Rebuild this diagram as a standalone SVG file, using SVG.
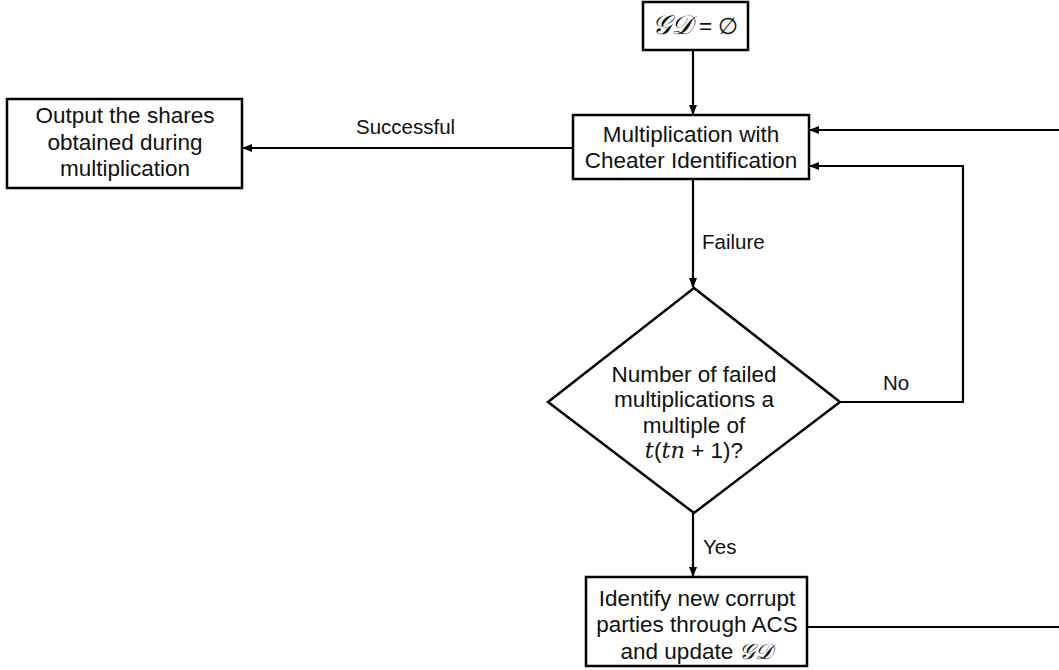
<svg xmlns="http://www.w3.org/2000/svg" width="1059" height="670" viewBox="0 0 1059 670">
<defs>
<marker id="ah" markerWidth="10" markerHeight="8" refX="9" refY="4" orient="auto" markerUnits="userSpaceOnUse">
<path d="M0,0 L10,4 L0,8 Z" fill="#000"/>
</marker>
<style>
.box{fill:#fff;stroke:#000;stroke-width:2.5}
.t{font-family:"Liberation Sans",Arial,sans-serif;font-size:22.5px;fill:#111;text-anchor:middle}
.m{font-family:"DejaVu Serif","Liberation Serif",serif;font-style:italic}
.g{font-family:"DejaVu Serif","Liberation Serif",serif;font-style:italic;font-size:27px}
.g2{font-family:"DejaVu Serif","Liberation Serif",serif;font-style:italic;font-size:22px}
.lbl{font-family:"Liberation Sans",Arial,sans-serif;font-size:20.5px;fill:#111}
.c{fill:none;stroke:#000;stroke-width:2.2}
</style>
</defs>
<rect width="1059" height="670" fill="#fff"/>
<g id="connectors">
<line class="c" x1="693" y1="50" x2="693" y2="114" marker-end="url(#ah)"/>
<line class="c" x1="573" y1="148" x2="243" y2="148" marker-end="url(#ah)"/>
<line class="c" x1="693" y1="179" x2="693" y2="287" marker-end="url(#ah)"/>
<line class="c" x1="693" y1="513" x2="693" y2="576" marker-end="url(#ah)"/>
<polyline class="c" points="840,402 963,402 963,166 810,166" marker-end="url(#ah)"/>
<line class="c" x1="1059" y1="130" x2="810" y2="130" marker-end="url(#ah)"/>
<line class="c" x1="807" y1="627" x2="1059" y2="627"/>
<text class="lbl" x="356" y="134">Successful</text>
<text class="lbl" x="702" y="249">Failure</text>
<text class="lbl" x="883" y="390">No</text>
<text class="lbl" x="703" y="554">Yes</text>
</g>
<g id="start">
<rect class="box" x="643" y="2" width="105" height="48"/>
<text class="t" x="695" y="34"><tspan class="g">𝒢𝒟</tspan> = ∅</text>
</g>
<g id="mult">
<rect class="box" x="573" y="115" width="236" height="64"/>
<text class="t" x="691" y="142">Multiplication with</text>
<text class="t" x="691" y="168">Cheater Identification</text>
</g>
<g id="output">
<rect class="box" x="7" y="99" width="235" height="89"/>
<text class="t" x="125" y="123">Output the shares</text>
<text class="t" x="125" y="150">obtained during</text>
<text class="t" x="125" y="176">multiplication</text>
</g>
<g id="decision">
<polygon class="box" points="694,288 840,402 694,513 548,402"/>
<text class="t" x="694" y="382">Number of failed</text>
<text class="t" x="694" y="407">multiplications a</text>
<text class="t" x="694" y="433">multiple of</text>
<text class="t" x="694" y="458"><tspan class="m">t</tspan>(<tspan class="m">tn</tspan> + 1)?</text>
</g>
<g id="identify">
<rect class="box" x="586" y="577" width="221" height="89"/>
<text class="t" x="697" y="606">Identify new corrupt</text>
<text class="t" x="697" y="632">parties through ACS</text>
<text class="t" x="697" y="659">and update <tspan class="g2">𝒢𝒟</tspan></text>
</g>
</svg>
